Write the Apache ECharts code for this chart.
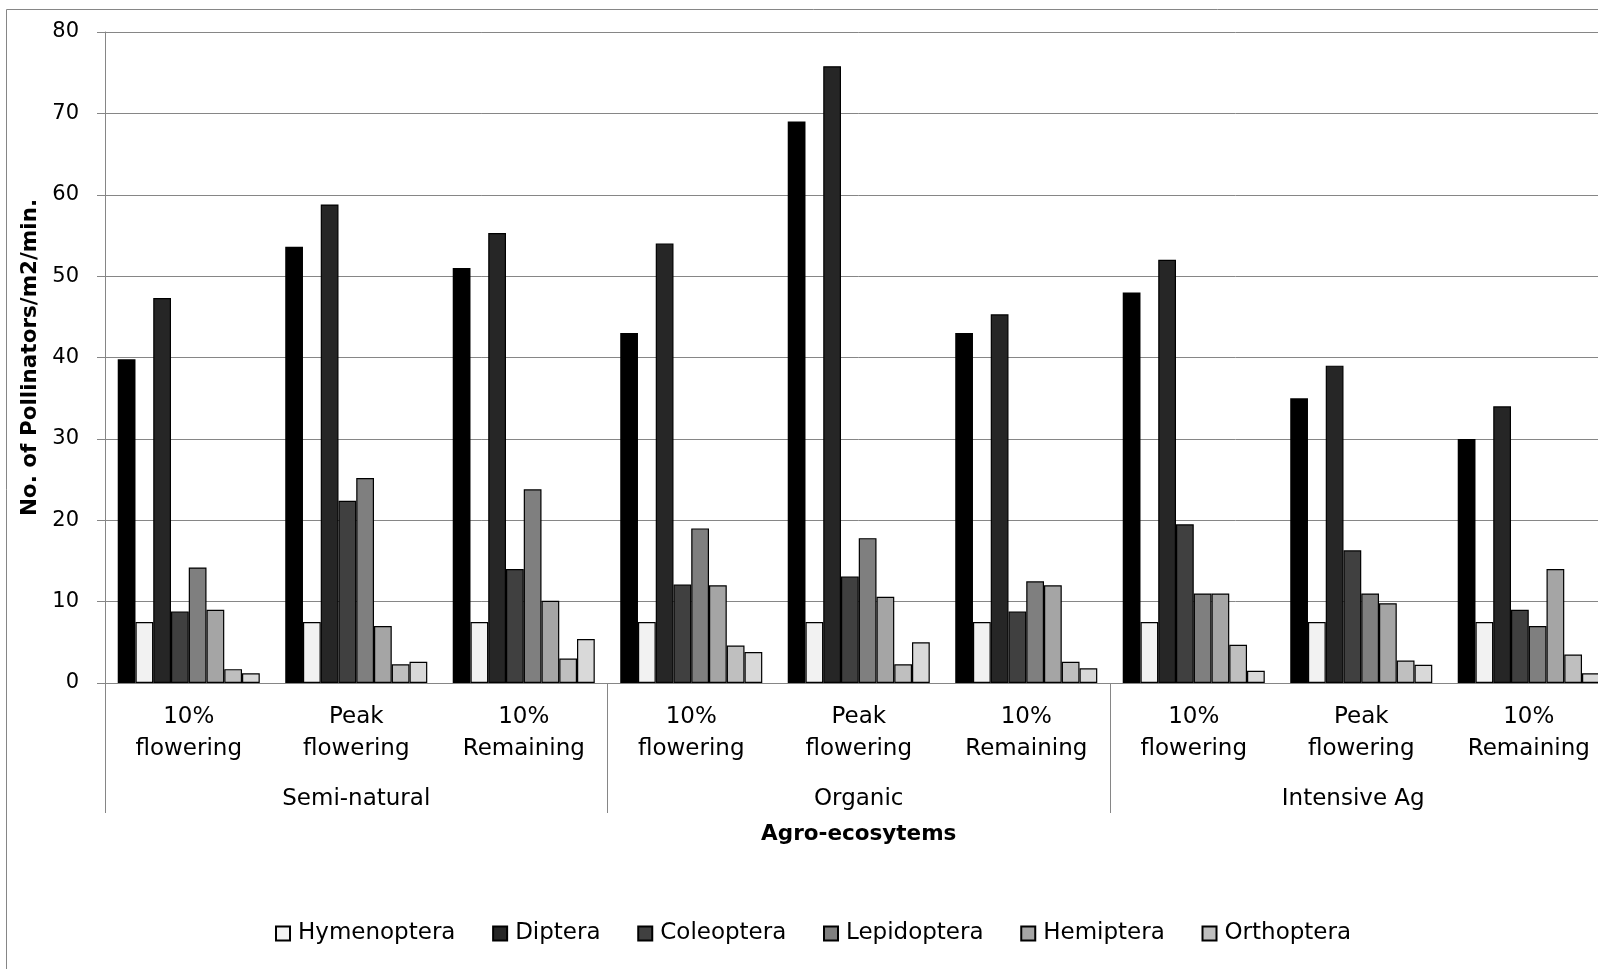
<!DOCTYPE html>
<html>
<head>
<meta charset="utf-8">
<script src="https://cdn.jsdelivr.net/npm/echarts@6/dist/echarts.min.js"></script>
<style>
html,body{margin:0;padding:0;background:#fff;overflow:hidden;width:1598px;height:969px;}
#chart{width:1620px;height:969px;}
</style>
</head>
<body>
<div id="chart"></div>
<script>
// ---- data ----
const stages = ['10%\nflowering', 'Peak\nflowering', '10%\nRemaining',
                '10%\nflowering', 'Peak\nflowering', '10%\nRemaining',
                '10%\nflowering', 'Peak\nflowering', '10%\nRemaining'];
const groups = ['Semi-natural', 'Organic', 'Intensive Ag'];
const yTicks = [0, 10, 20, 30, 40, 50, 60, 70, 80];

const unlabelledA = [39.8, 53.6, 51.0, 43.0, 69.0, 43.0, 48.0, 35.0, 30.0];
const hymenoptera = [7.5, 7.5, 7.5, 7.5, 7.5, 7.5, 7.5, 7.5, 7.5];
const diptera     = [47.3, 58.8, 55.3, 54.0, 75.8, 45.3, 52.0, 39.0, 34.0];
const coleoptera  = [8.8, 22.4, 14.0, 12.1, 13.1, 8.8, 19.5, 16.3, 9.0];
const lepidoptera = [14.2, 25.2, 23.8, 19.0, 17.8, 12.5, 11.0, 11.0, 7.0];
const hemiptera   = [9.0, 7.0, 10.1, 12.0, 10.6, 12.0, 11.0, 9.8, 14.0];
const orthoptera  = [1.7, 2.3, 3.0, 4.6, 2.3, 2.6, 4.7, 2.75, 3.5];
const unlabelledB = [1.2, 2.6, 5.4, 3.8, 5.0, 1.8, 1.5, 2.25, 1.2];

const legendNames = ['Hymenoptera', 'Diptera', 'Coleoptera', 'Lepidoptera', 'Hemiptera', 'Orthoptera'];

// ---- styling ----
const FONT = 'DejaVu Sans';
const GRAY = '#868686';
const seriesDefs = [
  {name: 'Unlabelled A', data: unlabelledA, color: '#000000', border: 0},
  {name: 'Hymenoptera', data: hymenoptera, color: '#f2f2f2', border: 1.2},
  {name: 'Diptera', data: diptera, color: '#262626', border: 1.2},
  {name: 'Coleoptera', data: coleoptera, color: '#404040', border: 1.2},
  {name: 'Lepidoptera', data: lepidoptera, color: '#7f7f7f', border: 1.2},
  {name: 'Hemiptera', data: hemiptera, color: '#a5a5a5', border: 1.2},
  {name: 'Orthoptera', data: orthoptera, color: '#bfbfbf', border: 1.2},
  {name: 'Unlabelled B', data: unlabelledB, color: '#d9d9d9', border: 1.2}
];

const chart = echarts.init(document.getElementById('chart'), null, {renderer: 'canvas'});

const option = {
  animation: false,
  backgroundColor: '#ffffff',
  textStyle: {fontFamily: FONT, color: '#000'},
  graphic: [{
    type: 'rect',
    shape: {x: 6.5, y: 9.5, width: 1700, height: 1100},
    style: {fill: 'none', stroke: GRAY, lineWidth: 1},
    silent: true,
    z: -10
  }],
  grid: {left: 105, top: 32, width: 1507.5, height: 651, containLabel: false},
  legend: {
    data: legendNames,
    left: 270,
    top: 916.5,
    itemWidth: 14,
    itemHeight: 14,
    itemGap: 36.7,
    icon: 'rect',
    selectedMode: false,
    textStyle: {fontFamily: FONT, fontSize: 23, color: '#000', lineHeight: 24, padding: [0, 0, 0, 3]}
  },
  xAxis: [{
    type: 'category',
    data: stages,
    position: 'bottom',
    axisLine: {show: true, lineStyle: {color: GRAY, width: 1}},
    axisTick: {show: false},
    axisLabel: {
      interval: 0,
      margin: 18,
      fontFamily: FONT,
      fontSize: 23,
      lineHeight: 32,
      color: '#000',
      align: 'center'
    },
    name: 'Agro-ecosytems',
    nameLocation: 'middle',
    nameGap: 140,
    nameTextStyle: {fontFamily: FONT, fontWeight: 'bold', fontSize: 21.5, lineHeight: 22, color: '#000'}
  }, {
    type: 'category',
    data: groups,
    position: 'bottom',
    offset: 130,
    axisLine: {show: false},
    axisTick: {show: true, inside: true, length: 130, lineStyle: {color: GRAY, width: 1}},
    axisLabel: {
      interval: 0,
      margin: -28,
      fontFamily: FONT,
      fontSize: 23,
      lineHeight: 28,
      color: '#000',
      formatter: function (v) {
        return v === 'Intensive Ag' ? '{s|' + v + '}' : v;
      },
      rich: {s: {fontFamily: FONT, fontSize: 23, lineHeight: 28, color: '#000', padding: [0, 16, 0, 0]}}
    }
  }],
  yAxis: {
    type: 'value',
    min: yTicks[0],
    max: yTicks[yTicks.length - 1],
    interval: 10,
    axisLine: {show: true, lineStyle: {color: GRAY, width: 1}},
    axisTick: {show: true, length: 8, lineStyle: {color: GRAY, width: 1}},
    splitLine: {show: true, lineStyle: {color: GRAY, width: 1}},
    axisLabel: {margin: 26, fontFamily: FONT, fontSize: 21, color: '#000'},
    name: 'No. of Pollinators/m2/min.',
    nameLocation: 'middle',
    nameRotate: 90,
    nameGap: 58,
    nameTextStyle: {fontFamily: FONT, fontWeight: 'bold', fontSize: 21.5, lineHeight: 22, color: '#000'}
  },
  series: seriesDefs.map(function (s) {
    return {
      type: 'bar',
      name: s.name,
      data: s.data,
      xAxisIndex: 0,
      barGap: '0%',
      barCategoryGap: '15.2%',
      itemStyle: {color: s.color, borderColor: '#000', borderWidth: s.border},
      emphasis: {disabled: true}
    };
  })
};

chart.setOption(option);
</script>
</body>
</html>
